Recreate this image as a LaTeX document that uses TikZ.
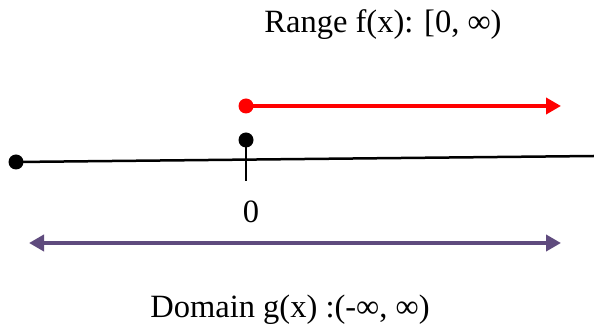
\documentclass[tikz,border=0pt]{standalone}
\usepackage{fontspec}
\setmainfont{Liberation Serif}
\usetikzlibrary{arrows.meta}
\definecolor{domainpurple}{RGB}{95,75,126}
\definecolor{rangered}{RGB}{255,0,0}
\tikzset{
  dotnode/.style={circle,fill=#1,inner sep=0pt,minimum size=15pt},
  lbl/.style={font=\fontsize{32.5}{38}\selectfont,inner sep=0pt},
  tipa/.style={-{Triangle[length=15pt,width=16pt]}},
}
\begin{document}
\begin{tikzpicture}[x=1pt,y=-1pt]
\useasboundingbox (0,0) rectangle (594,328);
% number line
\node[dotnode=black] (left) at (16,162) {};
\coordinate (right) at (594,156);
\draw[line width=2.5pt] (left.center) -- (right);
% tick and dot at 0
\node[dotnode=black] (zdot) at (246,140) {};
\coordinate (tickbot) at (246,181);
\draw[line width=2.5pt] (zdot.center) -- (tickbot);
\node[lbl] (zero) at (251,212) {0};
% range
\node[dotnode=rangered] (rdot) at (246,106) {};
\coordinate (rend) at (561,106);
\draw[rangered,line width=4pt,tipa] (rdot.center) -- (rend);
\node[lbl] (rangelbl) at (383,25) {Range f(x): [0, ∞)};
% domain
\coordinate (dl) at (29,243);
\coordinate (dr) at (561,243);
\draw[domainpurple,line width=4pt,{Triangle[length=15pt,width=16pt]}-{Triangle[length=15pt,width=16pt]}] (dl) -- (dr);
\node[lbl] (domainlbl) at (290,310) {Domain g(x) :(-∞, ∞)};
\end{tikzpicture}
\end{document}
